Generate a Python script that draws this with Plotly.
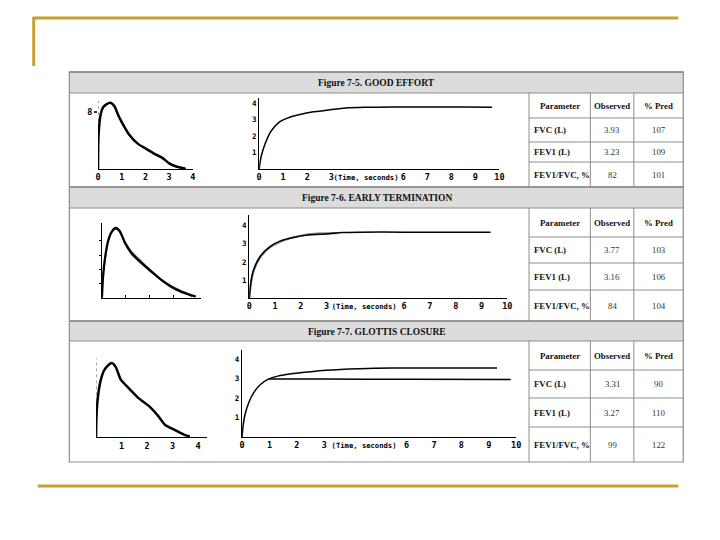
import plotly.graph_objects as go

# The page body has an 8px margin; the figure is sized so that page pixel
# coordinates below map onto the 720x540 window.
OFF = 8
W, H = 720 - 2 * OFF, 540 - 2 * OFF


def px(x):
    return (x - OFF) / W


def py(y):
    return 1 - (y - OFF) / H


# ---------------- data ----------------
panel_titles = ["Figure 7-5. GOOD EFFORT", "Figure 7-6. EARLY TERMINATION", "Figure 7-7. GLOTTIS CLOSURE"]
table_header = ["Parameter", "Observed", "% Pred"]
table_params = ["FVC (L)", "FEV1 (L)", "FEV1/FVC, %"]
good_observed = ["3.93", "3.23", "82"]
good_pred = ["107", "109", "101"]
early_observed = ["3.77", "3.16", "84"]
early_pred = ["103", "106", "104"]
glottis_observed = ["3.31", "3.27", "99"]
glottis_pred = ["90", "110", "122"]

time_ticks = [0, 1, 2, 3, 4.45, 6, 7, 8, 9, 10]
time_tick_text = ["0", "1", "2", "3", "(Time, seconds)", "6", "7", "8", "9", "10"]
volume_ticks = [1, 2, 3, 4]
volume_tick_text = ["1", "2", "3", "4"]
fv_ticks_a = [0, 1, 2, 3, 4]
fv_ticks_c = [1, 2, 3, 4]

# flow-volume curves (volume L, flow L/s)
good_fv_volume = [0, 0.02, 0.1, 0.2, 0.35, 0.55, 0.7, 0.85, 1.0, 1.3, 1.7, 2.0, 2.4, 2.7, 3.0, 3.3, 3.6, 3.7]
good_fv_flow = [0, 4.5, 7.5, 8.6, 9.1, 9.3, 8.8, 7.6, 6.6, 4.9, 3.5, 2.9, 2.1, 1.6, 0.8, 0.35, 0.1, 0]

early_fv_volume = [0, 0.03, 0.11, 0.25, 0.41, 0.58, 0.75, 0.96, 1.23, 1.65, 2.06, 2.47, 2.88, 3.29, 3.7, 3.91]
early_fv_flow = [0, 2.25, 5.1, 7.9, 9.3, 9.8, 9.3, 7.7, 6.25, 4.85, 3.66, 2.5, 1.55, 0.85, 0.38, 0.14]
early_fv_volume_b = [0, 0.03, 0.11, 0.25, 0.41, 0.58, 0.75, 0.96, 1.23, 1.65, 2.06, 2.47, 2.88, 3.29, 3.6, 3.75]
early_fv_flow_b = [0, 2.0, 4.8, 7.7, 9.2, 9.7, 9.2, 7.9, 6.5, 5.1, 3.8, 2.6, 1.7, 1.0, 0.5, 0.1]

glottis_fv_volume = [0, 0.013, 0.04, 0.1, 0.19, 0.32, 0.48, 0.62, 0.78, 0.97, 1.29, 1.68, 2.07, 2.45, 2.71, 3.1, 3.49, 3.68]
glottis_fv_flow = [0, 2.4, 4.3, 6.3, 8.0, 9.3, 10.0, 10.3, 9.7, 8.0, 6.8, 5.4, 4.35, 2.9, 1.7, 1.0, 0.3, 0.1]

# volume-time curves (time s, volume L)
good_vt_time = [0, 0.05, 0.1, 0.24, 0.5, 0.85, 1.3, 1.7, 2.2, 2.9, 3.6, 4.4, 5.5, 7.0, 8.5, 9.7]
good_vt_volume = [0, 0.5, 0.85, 1.5, 2.3, 2.85, 3.15, 3.3, 3.45, 3.58, 3.7, 3.74, 3.75, 3.75, 3.75, 3.74]

early_vt_time = [0, 0.065, 0.165, 0.42, 0.8, 1.19, 1.7, 2.34, 2.98, 3.6, 4.25, 6.0, 8.0, 9.35]
early_vt_volume = [0, 0.9, 1.55, 2.3, 2.85, 3.15, 3.35, 3.5, 3.55, 3.63, 3.65, 3.65, 3.65, 3.65]
early_vt_time_b = [0, 0.07, 0.17, 0.42, 0.8, 1.2, 1.7, 2.3, 2.9, 3.4]
early_vt_volume_b = [0, 0.85, 1.5, 2.25, 2.8, 3.12, 3.35, 3.53, 3.58, 3.6]

glottis_vt_time_a = [0, 0.04, 0.1, 0.24, 0.42, 0.66, 0.96, 1.3, 1.86, 2.5, 3.06, 4.26, 5.46, 7.0, 9.3]
glottis_vt_volume_a = [0, 0.6, 1.1, 1.74, 2.26, 2.68, 2.97, 3.12, 3.25, 3.35, 3.42, 3.5, 3.54, 3.54, 3.54]
glottis_vt_time_b = [0.96, 3.0, 6.0, 9.8]
glottis_vt_volume_b = [2.97, 2.97, 2.96, 2.95]

# ---------------- layout geometry ----------------
GOLD = "#c9a12e"
BORDER = "#8c8c8c"
BAND = "#dcdcdc"
BOX_L, BOX_R, BOX_T, BOX_B = 67, 688, 72, 462
bands = [(72, 93), (187, 208), (321, 341)]
table_rows = [
    (93, 118, 142, 162, 187),
    (208, 237, 263, 290, 321),
    (341, 370, 398, 427, 462),
]
table_cols = [532, 594, 638, 688]

fig = go.Figure()

# subplot boxes: x0px, x1px, ybottom_px, ytop_px, xrange, yrange
subplots = [
    (96, 192, 169, 100.8, [0, 4], [0, 9.6]),
    (259, 502, 169, 98, [0, 10], [0, 4.3]),
    (100, 200, 297.7, 223, [0, 4.12], [0, 10.5]),
    (249, 510, 298, 215, [0, 10], [0, 4.6]),
    (94, 206.7, 437.3, 358, [0, 4.37], [0, 11]),
    (241.7, 519, 437, 350, [0, 10], [0, 4.46]),
]


def small(t):
    # the long axis caption is set in a smaller, condensed size
    return t if len(t) <= 2 else "<span style='font-size:7.2px'>" + t + "</span>"


tickfont = dict(family="DejaVu Sans Mono", size=8.5, color="black", weight="bold")
axes = {}
for i, (x0, x1, yb, yt, xr, yr) in enumerate(subplots):
    n = "" if i == 0 else str(i + 1)
    axes["xaxis" + n] = dict(domain=[px(x0), px(x1)], range=xr, anchor="y" + n,
                             showgrid=False, zeroline=False, showline=True,
                             linecolor="black", linewidth=1.4, ticks="", tickangle=0,
                             tickfont=tickfont, fixedrange=True, showticklabels=False)
    axes["yaxis" + n] = dict(domain=[py(yb), py(yt)], range=yr, anchor="x" + n,
                             showgrid=False, zeroline=False, showline=True,
                             linecolor="black", linewidth=1.4, ticks="", tickangle=0,
                             tickfont=tickfont, fixedrange=True, showticklabels=False)

# flow-volume 1
axes["xaxis"].update(showticklabels=True, tickvals=fv_ticks_a, ticktext=[str(v) for v in fv_ticks_a])
axes["yaxis"].update(showline=False, showticklabels=True, tickvals=[8], ticktext=["8"],
                     ticks="outside", ticklen=3, tickwidth=1.5, tickcolor="#333")
# volume-time axes
for n in ["2", "4", "6"]:
    axes["xaxis" + n].update(showticklabels=True, tickvals=time_ticks,
                             ticktext=[small(t) for t in time_tick_text])
    axes["yaxis" + n].update(showticklabels=True, tickvals=volume_ticks, ticktext=volume_tick_text,
                             tickfont=dict(family="DejaVu Sans Mono", size=7.5, color="black", weight="bold"))
# flow-volume 2
axes["xaxis3"].update(ticks="inside", ticklen=3, tickvals=[1, 2, 3], tickcolor="black")
axes["yaxis3"].update(ticks="outside", ticklen=2, tickvals=[2, 4, 6, 8], tickcolor="black")
# flow-volume 3
axes["xaxis5"].update(showticklabels=True, tickvals=fv_ticks_c, ticktext=[str(v) for v in fv_ticks_c])
axes["yaxis5"].update(showline=False)


def add_line(x, y, n, width=2.0, color="black", dash="solid"):
    fig.add_trace(go.Scatter(x=x, y=y, mode="lines", xaxis="x" + n, yaxis="y" + n,
                             line=dict(color=color, width=width, dash=dash, shape="spline", smoothing=0.6),
                             hoverinfo="skip", showlegend=False))


# dotted flow axes
add_line([0, 0], [0, subplots[0][5][1]], "", width=1, color="#555", dash="dot")
add_line([0, 0], [0, subplots[4][5][1]], "5", width=1, color="#555", dash="dot")

add_line(good_fv_volume, good_fv_flow, "", 2.5)
add_line(good_vt_time, good_vt_volume, "2", 1.5)
add_line(early_fv_volume_b, early_fv_flow_b, "3", 1.4, "#666")
add_line(early_fv_volume, early_fv_flow, "3", 2.3)
add_line(early_vt_time_b, early_vt_volume_b, "4", 2.2, "#888")
add_line(early_vt_time, early_vt_volume, "4", 1.5)
add_line(glottis_fv_volume, glottis_fv_flow, "5", 2.5)
add_line(glottis_vt_time_a, glottis_vt_volume_a, "6", 1.5)
add_line(glottis_vt_time_b, glottis_vt_volume_b, "6", 1.5)

shapes = []


def line(x0, y0, x1, y1, color=BORDER, width=1):
    shapes.append(dict(type="line", xref="paper", yref="paper", x0=px(x0), y0=py(y0),
                       x1=px(x1), y1=py(y1), line=dict(color=color, width=width)))


def rect(x0, y0, x1, y1, fill, color=None, width=0):
    shapes.append(dict(type="rect", xref="paper", yref="paper", x0=px(x0), y0=py(y0),
                       x1=px(x1), y1=py(y1), fillcolor=fill, layer="below",
                       line=dict(color=color or fill, width=width)))


# slide decoration
line(30, 18, 683, 18, GOLD, 3)
line(31, 17, 31, 66, GOLD, 3)
line(35, 486, 683, 486, GOLD, 3)

# header bands
for (t, b) in bands:
    rect(BOX_L, t, BOX_R, b, BAND)
    line(BOX_L, t, BOX_R, t, "#7a7a7a", 1.6)
    line(BOX_L, b, BOX_R, b, BORDER, 1)

# outer box
shapes.append(dict(type="rect", xref="paper", yref="paper", x0=px(BOX_L), y0=py(BOX_T),
                   x1=px(BOX_R), y1=py(BOX_B), line=dict(color=BORDER, width=1.2)))

annotations = []
title_font = dict(family="Liberation Serif", size=9.5, color="#111")
cell_font_b = dict(family="Liberation Serif", size=8.8, color="#111")
cell_font = dict(family="Liberation Serif", size=8.8, color="#333")

for k, (t, b) in enumerate(bands):
    annotations.append(dict(xref="paper", yref="paper", x=px(378), y=py((t + b) / 2 + 0.5),
                            text="<b>" + panel_titles[k] + "</b>", showarrow=False,
                            xanchor="center", yanchor="middle", font=title_font))

observed_sets = [good_observed, early_observed, glottis_observed]
pred_sets = [good_pred, early_pred, glottis_pred]
for k, rows in enumerate(table_rows):
    top, bottom = rows[0], rows[-1]
    for c in table_cols[:3]:
        line(c, top, c, bottom, BORDER, 1)
    for r in rows[1:-1]:
        line(table_cols[0], r, table_cols[-1], r, BORDER, 1)
    # header
    for j, h in enumerate(table_header):
        cx = (table_cols[j] + table_cols[j + 1]) / 2
        annotations.append(dict(xref="paper", yref="paper", x=px(cx), y=py((rows[0] + rows[1]) / 2),
                                text="<b>" + h + "</b>", showarrow=False, xanchor="center",
                                yanchor="middle", font=cell_font_b))
    for i, p in enumerate(table_params):
        cy = (rows[i + 1] + rows[i + 2]) / 2
        annotations.append(dict(xref="paper", yref="paper", x=px(table_cols[0] + 3), y=py(cy),
                                text="<b>" + p + "</b>", showarrow=False, xanchor="left",
                                yanchor="middle", font=cell_font_b))
        annotations.append(dict(xref="paper", yref="paper", x=px((table_cols[1] + table_cols[2]) / 2),
                                y=py(cy), text=observed_sets[k][i], showarrow=False,
                                xanchor="center", yanchor="middle", font=cell_font))
        annotations.append(dict(xref="paper", yref="paper", x=px((table_cols[2] + table_cols[3]) / 2),
                                y=py(cy), text=pred_sets[k][i], showarrow=False,
                                xanchor="center", yanchor="middle", font=cell_font))

fig.update_layout(width=W, height=H, margin=dict(l=0, r=0, t=0, b=0),
                  paper_bgcolor="white", plot_bgcolor="rgba(0,0,0,0)",
                  shapes=shapes, annotations=annotations, showlegend=False, **axes)

fig.write_html("out.html")
